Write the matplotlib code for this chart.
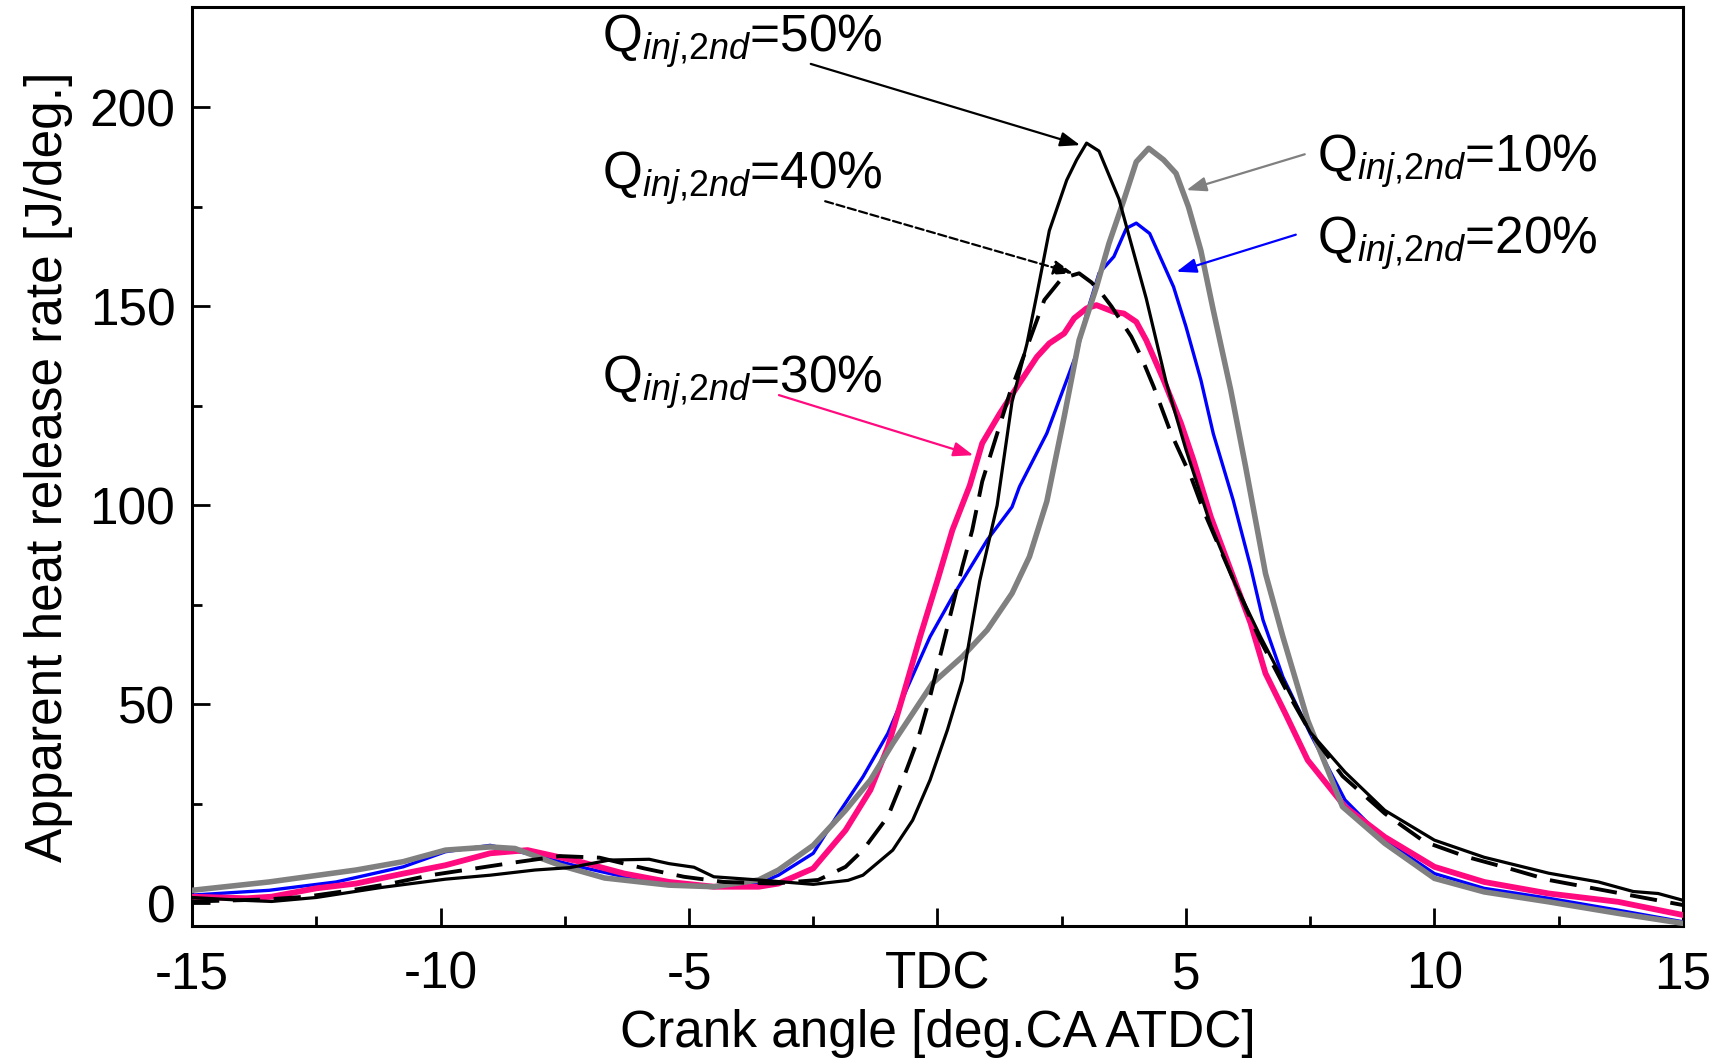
import matplotlib
matplotlib.use('Agg')
import matplotlib.pyplot as plt

plt.rcParams['font.family'] = ['Liberation Sans', 'DejaVu Sans']
plt.rcParams['mathtext.fontset'] = 'custom'
plt.rcParams['mathtext.rm'] = 'Liberation Sans'
plt.rcParams['mathtext.it'] = 'Liberation Sans:italic'

# Qinj,2nd = 50 % (black solid)
x50 = [-15, -14, -13.4, -12.5, -11.2, -9.9, -9.0, -8.1, -7.4, -6.6, -5.8, -5.4, -4.9, -4.5, -3.6, -2.5,
       -1.8, -1.5, -0.9, -0.5, -0.15, 0.2, 0.5, 0.85, 1.2, 1.5, 1.8, 2.0, 2.25, 2.6, 2.8, 3.0, 3.25,
       3.65, 4.2, 4.6, 5.0, 5.5, 6.0, 6.5, 7.0, 7.5, 8.2, 9.0, 10.0, 11.0, 12.3, 13.3, 14.0, 14.5, 15]
y50 = [1.5, 0.8, 0.5, 1.5, 4.0, 6.1, 7.1, 8.4, 9.0, 10.9, 11.1, 10.0, 9.1, 6.7, 5.9, 4.8,
       5.8, 7.1, 13.4, 20.9, 31, 43.6, 56, 81, 100, 126, 140.6, 153, 169, 181.7, 186.8, 191, 189,
       177, 152, 131, 114, 95, 80, 67, 55, 43, 33, 23.4, 15.9, 11.6, 7.6, 5.4, 3.0, 2.5, 0.8]

# Qinj,2nd = 40 % (black dashed)
x40 = [-15, -13.5, -12.7, -11.8, -11.0, -10.2, -9.3, -8.4, -7.6, -6.8, -5.9, -5.1, -4.3, -3.3, -2.4,
       -1.85, -1.5, -1.0, -0.7, -0.4, -0.15, 0.1, 0.3, 0.5, 0.7, 0.9, 1.2, 1.45, 1.75, 2.15, 2.5, 2.85,
       3.1, 3.3, 3.5, 3.9, 4.1, 4.35, 4.7, 5.1, 5.35, 6.0, 6.5, 7.0, 7.5, 8.15, 9.0, 9.8, 10.65, 11.5,
       12.3, 13.2, 14.1, 15]
y40 = [0.5, 1.0, 1.7, 3.3, 5.0, 7.1, 8.8, 10.5, 11.9, 11.5, 8.8, 6.7, 5.4, 5.0, 5.9,
       9.2, 13.4, 21.8, 31, 41, 51.9, 64.5, 74.5, 84.6, 93.8, 106, 118, 128, 138, 151.6, 157, 158.3,
       156, 153.3, 150, 142.4, 137.3, 129.8, 118.1, 107.2, 98.8, 80, 66, 54, 43, 32, 22.6, 15.5, 11.7, 8.8,
       5.9, 3.8, 1.7, -0.4]

# Qinj,2nd = 30 % (pink)
x30 = [-15, -13.9, -13.4, -12.5, -11.7, -10.75, -9.9, -9.0, -8.25, -7.2, -6.3, -5.4, -4.5, -3.6, -3.2,
       -2.5, -1.85, -1.35, -1.0, -0.7, -0.35, 0.0, 0.3, 0.65, 0.9, 1.25, 1.65, 2.0, 2.25, 2.55, 2.75,
       3.0, 3.2, 3.55, 3.75, 4.0, 4.2, 4.55, 4.9, 5.15, 5.5, 6.3, 6.6, 7.0, 7.45, 8.2, 9.0, 10.0, 11.0,
       12.3, 13.7, 15]
y30 = [1.7, 1.3, 1.7, 3.8, 5.0, 7.5, 9.6, 12.6, 13.4, 10.5, 7.5, 5.4, 4.2, 4.2, 5.0,
       8.8, 18.4, 28.5, 39.3, 51.9, 67, 81.2, 93.8, 105, 115.6, 123, 130.7, 137.3, 140.7, 143.2, 147,
       149.5, 150.3, 148.6, 148.2, 146.1, 141.5, 131.5, 120.6, 111.4, 97.1, 70.4, 57.8, 47.7, 36, 24.3,
       16.7, 9.2, 5.4, 2.5, 0.4, -2.9]

# Qinj,2nd = 20 % (blue)
x20 = [-15, -13.45, -12.1, -10.75, -9.9, -9.0, -8.1, -7.2, -6.3, -5.4, -4.5, -3.6, -3.2, -2.5, -1.95,
       -1.5, -1.0, -0.6, -0.15, 0.3, 1.0, 1.5, 1.65, 2.2, 2.55, 2.8, 3.0, 3.25, 3.55, 3.8, 4.0, 4.27,
       4.75, 5.0, 5.3, 5.55, 5.95, 6.3, 6.55, 6.95, 7.5, 8.2, 9.0, 10.0, 11.0, 12.3, 13.7, 15]
y20 = [2.1, 3.3, 5.4, 9.2, 13, 14.6, 12.1, 9.2, 6.7, 5.4, 4.3, 5.0, 7.1, 12.6, 23.4,
       31.8, 42.7, 54.4, 67, 77, 91.3, 99.6, 104.7, 118.1, 129.8, 138.2, 148.2, 158.3, 162.5, 169.6, 170.9, 168.3,
       154.9, 144.9, 131.5, 118, 101.3, 84.6, 71.2, 56.9, 42.7, 26, 15.9, 7.5, 3.8, 1.3, -1.7, -4.6]

# Qinj,2nd = 10 % (grey)
x10 = [-15, -13.45, -11.7, -10.75, -9.9, -9.0, -8.5, -7.6, -6.7, -5.4, -4.5, -3.6, -3.2, -2.5, -1.85,
       -1.35, -0.9, -0.1, 0.5, 1.0, 1.5, 1.85, 2.2, 2.55, 2.85, 3.2, 3.45, 3.75, 4.0, 4.25, 4.55, 4.8,
       5.05, 5.3, 5.55, 5.9, 6.2, 6.6, 6.95, 7.45, 8.15, 9.0, 10.0, 11.0, 12.3, 13.7, 15]
y10 = [3.3, 5.4, 8.4, 10.5, 13.4, 14.2, 13.8, 9.6, 6.4, 4.6, 4.2, 5.9, 8.4, 14.6, 23.4,
       31, 40.2, 55.3, 62, 68.7, 77.9, 87.1, 101, 122.3, 141.5, 154.9, 165.8, 176.7, 186.3, 189.7, 186.8, 183.4,
       175, 164, 149, 129, 109.7, 82.9, 67, 46, 24.3, 15.1, 6.3, 2.9, 0.4, -2.5, -5]

xticks = [-15, -10, -5, 0, 5, 10, 15]
xticklabels = ['-15', '-10', '-5', 'TDC', '5', '10', '15']
yticks = [0, 50, 100, 150, 200]

# label text position, arrow start, arrow tip (data units)
labels = ['50', '40', '30', '10', '20']
label_xy = [(-6.75, 213.9), (-6.75, 179.7), (-6.75, 128.3), (7.63, 183.8), (7.63, 163.3)]
arrow_from = [(-2.55, 210.9), (-2.26, 176.4), (-3.19, 127.7), (7.39, 188.2), (7.21, 168.0)]
arrow_to = [(2.87, 190.5), (2.73, 158.3), (0.72, 112.6), (5.01, 179.2), (4.81, 158.7)]
arrow_col = ['black', 'black', '#ff0a7f', '#808080', '#0000ff']
arrow_ls = ['-', '--', '-', '-', '-']

fig = plt.figure(figsize=(17.3, 10.58), dpi=100)
ax = fig.add_axes([0.111, 0.125, 0.8618, 0.8684])

ax.plot(x20, y20, color='#0000ff', lw=2.4, zorder=3)
ax.plot(x30, y30, color='#ff0a7f', lw=4.2, zorder=3)
ax.plot(x10, y10, color='#808080', lw=4.0, zorder=4)
ax.plot(x40, y40, color='black', lw=2.8, ls=(0, (7, 3.5)), zorder=5)
ax.plot(x50, y50, color='black', lw=2.3, zorder=6)

fs = 37
for lab, txy, a0, a1, c, ls in zip(labels, label_xy, arrow_from, arrow_to, arrow_col, arrow_ls):
    ax.text(txy[0], txy[1], r'Q$_{\mathit{inj{,}2nd}}$=' + lab + '%', fontsize=fs,
            ha='left', va='baseline', zorder=7)
    ax.annotate('', xy=a1, xytext=a0,
                arrowprops=dict(arrowstyle='-|>,head_length=0.6,head_width=0.22', color=c,
                                lw=1.6, ls=ls, mutation_scale=20, shrinkA=0, shrinkB=0),
                zorder=7)

ax.set_xlim(-15, 15)
ax.set_ylim(-5.6, 225.2)
ax.set_xticks(xticks)
ax.set_xticklabels(xticklabels)
ax.set_xticks([-12.5, -7.5, -2.5, 2.5, 7.5, 12.5], minor=True)
ax.set_yticks(yticks)
ax.set_yticks([25, 75, 125, 175], minor=True)
ax.tick_params(which='both', direction='in', width=2, labelsize=fs)
ax.tick_params(which='major', length=13)
ax.tick_params(which='minor', length=7)
ax.tick_params(axis='x', pad=18)
ax.tick_params(axis='y', pad=12)
for s in ax.spines.values():
    s.set_linewidth(2.2)

ax.set_xlabel('Crank angle [deg.CA ATDC]', fontsize=fs, labelpad=7)
ax.set_ylabel('Apparent heat release rate [J/deg.]', fontsize=fs, labelpad=12)

fig.savefig('out.png', dpi=100)
